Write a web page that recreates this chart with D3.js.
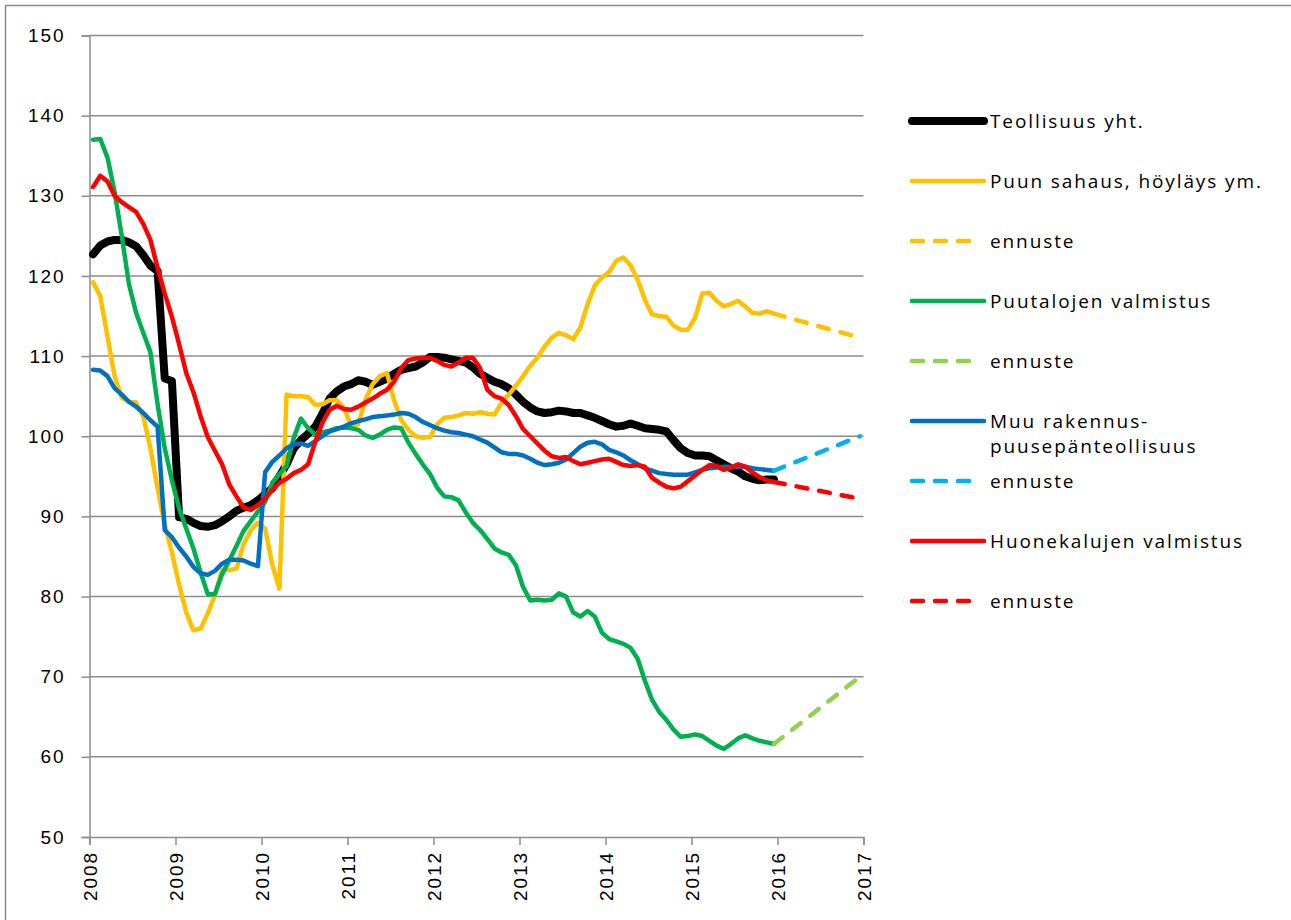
<!DOCTYPE html>
<html>
<head>
<meta charset="utf-8">
<script src="https://cdn.jsdelivr.net/npm/d3@7"></script>
<style>
  body { margin: 0; background: #fff; }
  svg { display: block; font-family: 'Open Sans', sans-serif; }
  svg text { letter-spacing: 1.9px; }
  .grid line { stroke: #8c8c8c; stroke-width: 1.5; }
  .series { fill: none; stroke-linejoin: round; stroke-linecap: round; }
</style>
</head>
<body>
<svg width="1291" height="920"></svg>
<script>
// year tick labels, one every 12 months
const years = [2008, 2009, 2010, 2011, 2012, 2013, 2014, 2015, 2016, 2017]
const yTicks = [50, 60, 70, 80, 90, 100, 110, 120, 130, 140, 150]

// monthly index values, Jan 2008 .. Dec 2015
const teollisuus = [
  122.7, 123.8, 124.3, 124.5, 124.5, 124.2, 123.7, 122.6, 121.3, 120.6, 107.2, 106.9,
  89.9, 89.7, 89.2, 88.8, 88.7, 88.9, 89.4, 90.0, 90.7, 91.1, 91.4, 92.0,
  92.8, 93.5, 95.0, 96.5, 98.5, 99.5, 100.3, 101.2, 102.8, 104.7, 105.6, 106.2,
  106.5, 107.0, 106.8, 106.4, 106.8, 107.2, 107.8, 108.3, 108.5, 108.7, 109.2, 109.9,
  109.9, 109.8, 109.6, 109.4, 109.2, 108.6, 107.8, 107.3, 106.8, 106.5, 106.0, 105.2,
  104.3, 103.6, 103.1, 102.9, 103.0, 103.2, 103.1, 102.9, 102.9, 102.6, 102.3, 101.9,
  101.5, 101.2, 101.3, 101.6, 101.3, 101.0, 100.9, 100.8, 100.6, 99.5, 98.5, 97.9,
  97.6, 97.6, 97.5, 97.0, 96.5, 96.0, 95.6, 95.0, 94.7, 94.5, 94.6, 94.6
]
const sahaus = [
  119.2, 117.5, 112.5, 107.5, 104.8, 104.3, 104.2, 102.5, 98.5, 93.5, 89.0, 85.5,
  81.5, 78.0, 75.8, 76.0, 77.9, 80.2, 83.3, 83.3, 83.5, 86.5, 88.3, 89.2,
  88.5, 84.0, 81.0, 105.2, 105.0, 105.0, 104.9, 103.9, 104.0, 104.5, 104.5, 103.5,
  101.3, 101.5, 104.5, 106.5, 107.5, 107.9, 104.5, 102.0, 100.8, 100.0, 99.8, 99.9,
  101.5, 102.3, 102.4, 102.6, 102.9, 102.8, 103.0, 102.8, 102.7, 104.2, 105.2, 106.3,
  107.5, 108.8, 109.8, 111.2, 112.3, 112.9, 112.6, 112.1, 113.6, 116.5, 118.8, 119.8,
  120.5, 121.9, 122.3, 121.3, 119.5, 117.0, 115.2, 115.0, 114.9, 113.8, 113.3, 113.3,
  114.8, 117.8, 117.9, 116.9, 116.2, 116.5, 116.9, 116.2, 115.4, 115.3, 115.6, 115.3
]
const puutalot = [
  137.0, 137.1, 134.8, 130.5, 125.0, 119.0, 115.4, 112.9, 110.5, 104.0, 98.5, 94.5,
  91.0, 88.5, 86.0, 83.0, 80.3, 80.3, 82.8, 84.5, 86.3, 88.2, 89.4, 90.6,
  91.8, 94.2, 95.3, 96.3, 99.8, 102.2, 101.0, 100.2, 100.5, 100.7, 101.0, 101.1,
  101.0, 100.8, 100.1, 99.8, 100.2, 100.8, 101.1, 101.0, 99.2, 97.8, 96.5, 95.3,
  93.6, 92.5, 92.4, 92.0, 90.5, 89.2, 88.3, 87.2, 86.0, 85.5, 85.2, 83.9,
  81.2, 79.5, 79.6, 79.5, 79.6, 80.4, 80.0, 78.0, 77.5, 78.2, 77.5, 75.5,
  74.7, 74.4, 74.1, 73.6, 72.2, 69.5, 67.1, 65.6, 64.6, 63.4, 62.5, 62.6,
  62.8, 62.6, 62.0, 61.4, 61.0, 61.6, 62.3, 62.7, 62.3, 62.0, 61.8, 61.6
]
const muuRakennus = [
  108.3, 108.2, 107.5, 106.0, 105.2, 104.3, 103.7, 102.9, 102.0, 101.2, 88.3, 87.4,
  86.1, 85.0, 83.7, 82.9, 82.7, 83.2, 84.1, 84.6, 84.6, 84.5, 84.1, 83.8,
  95.5, 96.8, 97.6, 98.5, 99.0, 99.1, 98.8, 99.4, 100.0, 100.6, 100.9, 101.2,
  101.6, 101.9, 102.1, 102.4, 102.5, 102.6, 102.7, 102.9, 102.8, 102.4, 101.8, 101.4,
  101.0, 100.7, 100.5, 100.4, 100.2, 100.0, 99.6, 99.2, 98.6, 98.0, 97.8, 97.8,
  97.6, 97.2, 96.7, 96.4, 96.5, 96.7, 97.1, 97.9, 98.7, 99.2, 99.3, 99.0,
  98.3, 98.0, 97.6, 97.0, 96.5, 96.0, 95.7, 95.4, 95.3, 95.2, 95.2, 95.2,
  95.5, 95.8, 96.0, 96.1, 96.2, 96.2, 96.2, 96.2, 96.0, 95.9, 95.8, 95.7
]
const huonekalut = [
  131.1, 132.5, 131.8, 130.0, 129.2, 128.6, 128.0, 126.5, 124.5, 121.0, 117.8, 114.9,
  111.5, 107.9, 105.5, 102.5, 99.9, 98.2, 96.5, 94.0, 92.5, 91.1, 90.8, 91.4,
  92.2, 93.3, 94.2, 94.7, 95.4, 95.8, 96.5, 99.3, 101.7, 103.3, 103.8, 103.4,
  103.3, 103.7, 104.2, 104.7, 105.3, 105.8, 106.8, 108.5, 109.5, 109.7, 109.8, 109.8,
  109.4, 108.9, 108.7, 109.2, 109.8, 109.8, 108.5, 105.8, 105.0, 104.7, 103.9, 102.5,
  100.9, 100.0, 99.1, 98.2, 97.5, 97.3, 97.4, 96.9, 96.5, 96.7, 96.9, 97.1,
  97.2, 96.8, 96.4, 96.3, 96.4, 96.2, 94.8, 94.2, 93.7, 93.5, 93.7, 94.4,
  95.1, 95.8, 96.4, 96.3, 95.8, 96.1, 96.5, 96.2, 95.5, 94.9, 94.5, 94.3
]

// forecasts (ennuste), Dec 2015 -> Dec 2016
const forecastMonths = [95, 107]
const sahausEnnuste = [115.3, 112.3]
const puutalotEnnuste = [61.6, 70.0]
const muuRakennusEnnuste = [95.7, 100.0]
const huonekalutEnnuste = [94.3, 92.2]

const legendLabels = ['Teollisuus yht.', 'Puun sahaus, höyläys ym.', 'ennuste', 'Puutalojen valmistus',
  'ennuste', 'Muu rakennus-\npuusepänteollisuus', 'ennuste', 'Huonekalujen valmistus', 'ennuste']

const toPoints = vals => vals.map((v, i) => ({i, v}))
const toForecast = vals => vals.map((v, k) => ({i: forecastMonths[k], v}))

const series = [
  {values: toPoints(teollisuus), color: '#000000', width: 8, dash: null},
  {values: toPoints(sahaus), color: '#FFC000', width: 4.5, dash: null},
  {values: toForecast(sahausEnnuste), color: '#FFC000', width: 4.5, dash: '11,12'},
  {values: toPoints(puutalot), color: '#00B050', width: 4.5, dash: null},
  {values: toForecast(puutalotEnnuste), color: '#92D050', width: 4.5, dash: '11,12'},
  {values: toPoints(muuRakennus), color: '#0070C0', width: 4.5, dash: null},
  {values: toForecast(muuRakennusEnnuste), color: '#00B0F0', width: 4.5, dash: '11,12'},
  {values: toPoints(huonekalut), color: '#FF0000', width: 4.5, dash: null},
  {values: toForecast(huonekalutEnnuste), color: '#FF0000', width: 4.5, dash: '11,12'}
]

const svg = d3.select('svg')
const plot = {left: 89.5, right: 863.5, top: 35.5, bottom: 837}

// outer chart frame
svg.append('rect')
  .attr('x', 5.5).attr('y', 5.5)
  .attr('width', 1300).attr('height', 930)
  .attr('fill', 'none').attr('stroke', '#8c8c8c').attr('stroke-width', 1.5)

const x = d3.scaleLinear().domain([0, 108]).range([plot.left, plot.right])
const y = d3.scaleLinear().domain([50, 150]).range([plot.bottom, plot.top])

// horizontal gridlines
svg.append('g')
  .attr('class', 'grid')
  .selectAll('line')
  .data(yTicks.slice(1))
  .enter()
  .append('line')
  .attr('x1', plot.left).attr('x2', plot.right)
  .attr('y1', d => y(d)).attr('y2', d => y(d))

// y axis
const yAxis = svg.append('g')
  .attr('transform', 'translate(' + plot.left + ',0)')
  .call(d3.axisLeft(y).tickValues(yTicks).tickSize(8).tickPadding(16))
yAxis.select('.domain').attr('stroke', '#8c8c8c').attr('stroke-width', 1.5)
yAxis.selectAll('.tick line').attr('stroke', '#8c8c8c').attr('stroke-width', 1.5)
yAxis.selectAll('.tick text')
  .style('font-size', '19px')
  .attr('fill', '#000')

// x axis
const xAxis = svg.append('g')
  .attr('transform', 'translate(0,' + plot.bottom + ')')
  .call(d3.axisBottom(x)
    .tickValues(years.map((yr, k) => k * 12))
    .tickFormat((d, k) => years[k])
    .tickSize(8))
xAxis.select('.domain').attr('stroke', '#8c8c8c').attr('stroke-width', 1.5)
xAxis.selectAll('.tick line').attr('stroke', '#8c8c8c').attr('stroke-width', 1.5)
xAxis.selectAll('.tick text')
  .style('font-size', '19px')
  .attr('fill', '#000')
  .attr('transform', 'rotate(-90)')
  .attr('text-anchor', 'end')
  .attr('x', -14)
  .attr('y', 0)
  .attr('dy', '0.35em')

// lines
const line = d3.line()
  .x(d => x(d.i + 0.5))
  .y(d => y(d.v))

svg.append('g')
  .selectAll('path')
  .data(series)
  .enter()
  .append('path')
  .attr('class', 'series')
  .attr('d', d => line(d.values))
  .attr('stroke', d => d.color)
  .attr('stroke-width', d => d.width)
  .attr('stroke-dasharray', d => d.dash)

// legend
const legend = svg.append('g')
  .selectAll('g')
  .data(series)
  .enter()
  .append('g')
  .attr('transform', (d, k) => 'translate(912,' + (121 + k * 60) + ')')

legend.append('line')
  .attr('class', 'series')
  .attr('x1', 0).attr('x2', d => d.dash ? 62 : 72)
  .attr('y1', 0).attr('y2', 0)
  .attr('stroke', d => d.color)
  .attr('stroke-width', d => d.width)
  .attr('stroke-dasharray', d => d.dash ? '11,12' : null)

legend.append('text')
  .attr('x', 78)
  .attr('y', 0)
  .style('font-size', '19px')
  .selectAll('tspan')
  .data((d, k) => legendLabels[k].split('\n'))
  .enter()
  .append('tspan')
  .attr('x', 78)
  .attr('dy', (t, j) => j === 0 ? '0.35em' : '25px')
  .text(t => t)
</script>
</body>
</html>
